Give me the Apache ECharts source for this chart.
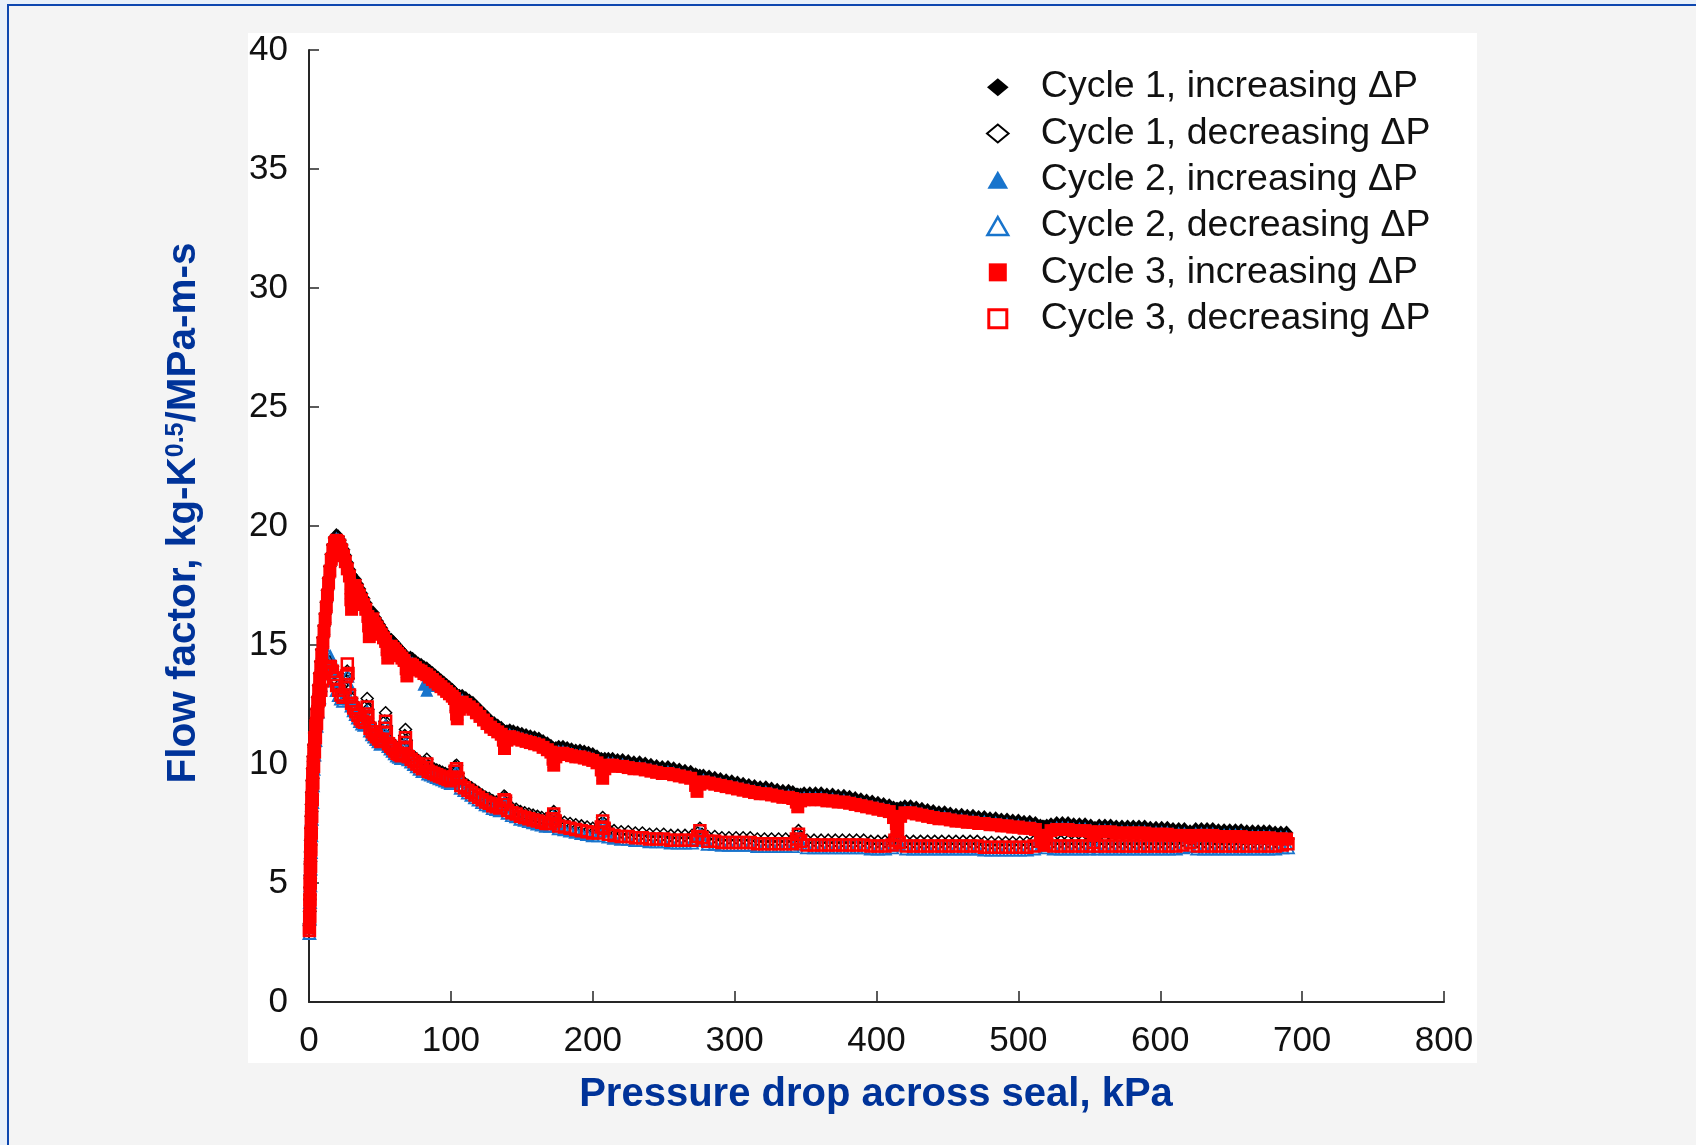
<!DOCTYPE html>
<html>
<head>
<meta charset="utf-8">
<script src="https://cdn.jsdelivr.net/npm/echarts@6/dist/echarts.min.js"></script>
<style>
html,body{margin:0;padding:0;}
body{width:1696px;height:1145px;overflow:hidden;background:#e8f0fa;position:relative;}
#frame{position:absolute;left:7px;top:4px;right:-10px;bottom:-10px;background:#f4f4f4;border-left:2px solid #0d47b0;border-top:2px solid #0d47b0;}
#panel{position:absolute;left:248px;top:33px;width:1229px;height:1030px;background:#ffffff;}
#c{position:absolute;left:0;top:0;width:1696px;height:1145px;}
</style>
</head>
<body>
<div id="frame"></div>
<div id="panel"></div>
<div id="c"></div>
<script>
// ---------- data ----------
const seriesNames = [
  'Cycle 1, increasing \u0394P',
  'Cycle 1, decreasing \u0394P',
  'Cycle 2, increasing \u0394P',
  'Cycle 2, decreasing \u0394P',
  'Cycle 3, increasing \u0394P',
  'Cycle 3, decreasing \u0394P'
];
const xTicks = [0,100,200,300,400,500,600,700,800];
const yTicks = [0,5,10,15,20,25,30,35,40];

// pressure drop (kPa) for increasing-ΔP records
const incX = [
0.3,0.5,0.6,0.7,0.8,0.9,1.0,1.1,1.3,1.5,
1.7,1.9,2.2,2.5,2.9,3.4,4.0,4.7,5.4,6.1,
6.8,7.5,8.3,9.0,9.8,10.6,11.4,12.2,13.0,13.8,
14.7,15.7,16.8,18.0,19.3,20.5,21.7,23.0,24.3,25.6,
27.0,28.5,29.5,29.5,30.0,31.0,32.5,34.0,35.5,37.0,
38.5,40.0,41.5,42.0,42.5,43.5,45.0,46.5,48.0,49.5,
51.0,52.5,54.0,55.0,55.5,56.5,58.0,59.5,61.0,62.5,
64.0,65.5,67.0,68.5,69.0,70.0,71.5,73.0,75.0,77.0,
79,81,83,85,87,89,91,93,95,97,
99,101,102.5,103.5,104,104.5,106,108,110.5,113,
115.5,118,120.5,123,125.5,128,130.5,133,135.5,137,
137.8,139.5,141.5,144,147,150,153,156,159,162,
165,168,170.5,172,172.5,174,176,179,182,185,
188,191,194,197,200,203,206,207,208.5,211,
214,217.5,221,225,229,233,237,241,245,249,
253,257,261,265,269,272.5,273.5,275.5,278,282,
286,290,294,298,302,306,310,314,318,322,
326,330,334,338,341,343.5,344.5,346.5,349,353,
357,361,365,369,373,377,381,385,389,393,
397,401,405,409,412,414,415,417,420,424,
428,432,436,440,444,448,452,456,460,464,
468,472,476,480,484,488,492,496,500,504,
508,512,515.5,517,518,520,523,527,531,535,
539,543,547,551,554,557,561,565,569,573,
577,581,585,589,593,597,601,605,609,613,
617,621,625,629,633,637,641,645,649,653,
657,661,665,669,673,677,681,685,689
];
// flow factor, Cycle 1 increasing
const c1IncY = [
3.3,3.8,4.3,4.8,5.3,5.8,6.3,6.8,7.3,7.8,
8.3,8.8,9.3,9.8,10.3,10.8,11.3,11.8,12.3,12.8,
13.3,13.8,14.3,14.8,15.3,15.8,16.3,16.8,17.3,17.8,
18.3,18.8,19.2,19.5,19.6,19.55,19.4,19.2,19.0,18.75,
18.45,18.15,17.95,17.8,17.7,17.75,17.75,17.55,17.35,17.15,
16.95,16.75,16.5,16.35,16.3,16.3,16.35,16.15,16.0,15.85,
15.7,15.55,15.4,15.25,15.2,15.2,15.2,15.1,15.0,14.9,
14.8,14.7,14.6,14.45,14.4,14.4,14.45,14.4,14.3,14.2,
14.15,14.05,14.0,13.9,13.8,13.7,13.6,13.5,13.4,13.3,
13.2,13.1,13.0,12.9,12.85,12.85,12.85,12.85,12.75,12.65,
12.55,12.4,12.25,12.1,11.95,11.8,11.7,11.6,11.5,11.4,
11.35,11.35,11.4,11.35,11.3,11.25,11.2,11.15,11.1,11.05,
10.95,10.85,10.75,10.65,10.6,10.65,10.7,10.7,10.65,10.6,
10.55,10.55,10.5,10.45,10.4,10.3,10.2,10.15,10.2,10.2,
10.2,10.15,10.15,10.1,10.05,10.05,10.0,9.95,9.9,9.85,
9.85,9.8,9.75,9.7,9.65,9.55,9.5,9.5,9.5,9.45,
9.4,9.35,9.3,9.25,9.2,9.15,9.1,9.05,9.0,9.0,
8.95,8.9,8.85,8.85,8.8,8.7,8.7,8.7,8.75,8.75,
8.75,8.75,8.7,8.7,8.65,8.65,8.6,8.55,8.5,8.45,
8.4,8.35,8.3,8.25,8.15,8.1,8.1,8.15,8.2,8.2,
8.15,8.1,8.05,8.0,7.95,7.95,7.9,7.85,7.85,7.8,
7.8,7.75,7.75,7.7,7.7,7.65,7.65,7.6,7.6,7.55,
7.55,7.5,7.4,7.35,7.35,7.4,7.45,7.5,7.5,7.5,
7.45,7.45,7.45,7.4,7.3,7.4,7.4,7.4,7.35,7.35,
7.35,7.35,7.35,7.35,7.3,7.3,7.3,7.3,7.25,7.25,
7.25,7.15,7.25,7.25,7.25,7.25,7.2,7.2,7.2,7.2,
7.2,7.15,7.15,7.15,7.15,7.15,7.1,7.1,7.1
];
// flow factor, Cycle 2 increasing
const c2IncY = [
4.2,4.3,4.6,5.0,5.4,5.8,6.3,6.8,7.2,7.7,
8.2,8.7,9.2,9.7,10.2,10.7,11.2,11.7,12.2,12.7,
13.2,13.7,14.2,14.7,15.2,15.7,16.2,16.7,17.2,17.7,
18.2,18.7,19.1,19.4,19.5,19.45,19.3,19.1,18.85,18.6,
18.3,18.0,17.6,17.2,16.9,17.3,17.6,17.4,17.2,17.0,
16.8,16.6,16.3,15.9,15.6,16.0,16.2,16.0,15.85,15.7,
15.55,15.4,15.25,14.95,14.7,14.9,15.05,14.95,14.85,14.75,
14.65,14.55,14.45,14.1,13.9,14.1,14.3,14.25,14.15,14.05,
14.0,13.35,13.1,13.3,13.65,13.55,13.45,13.35,13.25,13.15,
13.05,12.95,12.85,12.5,12.3,12.1,12.4,12.7,12.6,12.5,
12.4,12.25,12.1,11.95,11.8,11.65,11.55,11.45,11.35,11.1,
10.8,11.1,11.25,11.2,11.15,11.1,11.05,11.0,10.95,10.9,
10.8,10.7,10.6,10.3,10.1,10.4,10.55,10.55,10.5,10.45,
10.4,10.4,10.35,10.3,10.25,10.15,9.85,9.55,9.9,10.05,
10.05,10.0,10.0,9.95,9.9,9.9,9.85,9.8,9.75,9.7,
9.7,9.65,9.6,9.55,9.5,9.2,9.0,9.25,9.35,9.3,
9.25,9.2,9.15,9.1,9.05,9.0,8.95,8.9,8.85,8.85,
8.8,8.75,8.7,8.7,8.65,8.5,8.3,8.55,8.6,8.6,
8.6,8.6,8.55,8.55,8.5,8.5,8.45,8.4,8.35,8.3,
8.25,8.2,8.15,8.1,7.85,7.6,7.45,7.9,8.05,8.05,
8.0,7.95,7.9,7.85,7.8,7.8,7.75,7.7,7.7,7.65,
7.65,7.6,7.6,7.55,7.55,7.5,7.5,7.45,7.45,7.4,
7.4,7.35,7.1,6.9,6.75,7.1,7.3,7.35,7.35,7.35,
7.3,7.3,7.3,7.25,7.1,7.25,7.25,7.25,7.2,7.2,
7.2,7.2,7.2,7.2,7.15,7.15,7.15,7.15,7.1,7.1,
7.1,7.0,7.1,7.1,7.1,7.1,7.05,7.05,7.05,7.05,
7.05,7.0,7.0,7.0,7.0,7.0,6.95,6.95,6.95
];
// flow factor, Cycle 3 increasing
const c3IncY = [
3.1,3.6,4.1,4.6,5.1,5.6,6.1,6.6,7.1,7.6,
8.1,8.6,9.1,9.6,10.1,10.6,11.1,11.6,12.1,12.6,
13.1,13.6,14.1,14.6,15.1,15.6,16.1,16.6,17.1,17.6,
18.1,18.6,19.0,19.3,19.4,19.35,19.2,19.0,18.75,18.5,
18.2,17.9,17.4,16.9,16.5,17.2,17.5,17.3,17.1,16.9,
16.7,16.5,16.2,15.8,15.35,15.9,16.1,15.9,15.75,15.6,
15.45,15.3,15.15,14.8,14.45,14.8,14.95,14.85,14.75,14.65,
14.55,14.45,14.35,14.0,13.7,14.0,14.2,14.15,14.05,13.95,
13.9,13.8,13.75,13.65,13.55,13.45,13.35,13.25,13.15,13.05,
12.95,12.85,12.75,12.4,12.1,11.9,12.3,12.6,12.5,12.4,
12.3,12.15,12.0,11.85,11.7,11.55,11.45,11.35,11.25,11.0,
10.65,11.0,11.15,11.1,11.05,11.0,10.95,10.9,10.85,10.8,
10.7,10.6,10.5,10.2,9.95,10.3,10.45,10.45,10.4,10.35,
10.3,10.3,10.25,10.2,10.15,10.05,9.75,9.4,9.8,9.95,
9.95,9.9,9.9,9.85,9.8,9.8,9.75,9.7,9.65,9.6,
9.6,9.55,9.5,9.45,9.4,9.1,8.85,9.15,9.25,9.2,
9.15,9.1,9.05,9.0,8.95,8.9,8.85,8.8,8.75,8.75,
8.7,8.65,8.6,8.6,8.55,8.4,8.2,8.45,8.5,8.5,
8.5,8.5,8.45,8.45,8.4,8.4,8.35,8.3,8.25,8.2,
8.15,8.1,8.05,8.0,7.75,7.5,7.3,7.8,7.95,7.95,
7.9,7.85,7.8,7.75,7.7,7.7,7.65,7.6,7.6,7.55,
7.55,7.5,7.5,7.45,7.45,7.4,7.4,7.35,7.35,7.3,
7.3,7.25,7.0,6.8,6.6,7.0,7.2,7.25,7.25,7.25,
7.2,7.2,7.2,7.15,7.0,7.15,7.15,7.15,7.1,7.1,
7.1,7.1,7.1,7.1,7.05,7.05,7.05,7.05,7.0,7.0,
7.0,6.9,7.0,7.0,7.0,7.0,6.95,6.95,6.95,6.95,
6.95,6.9,6.9,6.9,6.9,6.9,6.85,6.85,6.85
];

// pressure drop (kPa) for decreasing-ΔP records
const decX = [
0.3,0.5,0.7,0.9,1.1,1.3,1.6,1.9,2.3,2.7,
3.2,3.8,4.5,5.3,6.2,7.2,8.3,9.5,10.8,12.2,
13.6,15.0,16.5,18.0,19.5,21.0,22.5,24.0,25.5,26.5,
27.0,27.5,28.5,30.0,31.5,33.0,34.5,36.0,37.5,39.0,
40.5,41.0,41.5,43.0,44.5,46.0,47.5,49.0,50.5,52.0,
53.5,54.0,54.5,56.0,57.5,59.0,60.5,62.0,63.5,65.0,
66.5,67.5,68.0,68.5,70.0,72.0,74.0,76.0,78.0,80.0,
82,83,84,86,88,90,92,94,96,98,
100,102,103,104,105,107,109.5,112,114.5,117,
119.5,122,124.5,127,129.5,132,134.5,136.5,137.5,138.5,
140,143,146,149,152,155,158,161,164,167,
170,171.5,172.5,173.5,176,180,184,188,192,196,
200,204,206,207,208,211,215,220,225,230,
235,240,245,250,255,260,265,270,274,275.5,
277,281,286,291,296,301,306,311,316,321,
326,331,336,341,343.5,345,346.5,351,356,361,
366,371,376,381,386,391,396,401,406,411,
413,414.5,416,421,426,431,436,441,446,451,
456,461,466,471,476,481,486,491,496,501,
506,511,516,518,520,525,530,535,540,545,
550,553,556,561,566,571,576,581,586,591,
596,601,606,611,616,621,626,631,636,641,
646,651,656,661,666,671,676,681,686,690
];
// flow factor, Cycle 1 decreasing
const c1DecY = [
3.2,3.8,4.5,5.2,5.9,6.6,7.3,8.0,8.7,9.4,
10.1,10.7,11.3,11.9,12.4,12.9,13.3,13.7,14.0,14.2,
14.3,14.3,14.1,13.8,13.5,13.3,13.1,13.0,13.2,13.5,
13.9,13.6,13.1,12.75,12.55,12.4,12.25,12.1,12.0,11.95,
12.45,12.75,12.3,11.7,11.55,11.45,11.35,11.25,11.15,11.25,
11.8,12.15,11.6,11.05,10.95,10.85,10.75,10.65,10.6,10.55,
10.65,11.2,11.45,11.0,10.5,10.4,10.3,10.2,10.1,10.0,
10.05,10.2,9.9,9.85,9.8,9.75,9.7,9.65,9.6,9.55,
9.5,9.65,9.9,9.95,9.6,9.3,9.2,9.1,9.0,8.9,
8.8,8.7,8.6,8.55,8.45,8.4,8.35,8.5,8.65,8.6,
8.25,8.15,8.1,8.0,7.95,7.9,7.85,7.8,7.75,7.7,
7.7,7.85,8.0,7.8,7.6,7.55,7.5,7.45,7.4,7.35,
7.3,7.3,7.5,7.75,7.5,7.25,7.2,7.15,7.15,7.1,
7.1,7.05,7.05,7.05,7.0,7.0,7.0,7.0,7.1,7.3,
7.05,6.95,6.95,6.9,6.9,6.9,6.9,6.9,6.85,6.85,
6.85,6.85,6.85,6.85,7.0,7.2,6.95,6.8,6.8,6.8,
6.8,6.8,6.8,6.8,6.8,6.8,6.75,6.75,6.75,6.8,
6.95,7.05,6.9,6.75,6.75,6.75,6.75,6.75,6.75,6.75,
6.75,6.75,6.75,6.75,6.7,6.7,6.7,6.7,6.7,6.7,
6.7,6.75,6.9,6.95,6.8,6.75,6.75,6.75,6.75,6.75,
6.75,6.85,6.75,6.75,6.75,6.75,6.75,6.75,6.75,6.75,
6.75,6.75,6.75,6.75,6.8,6.85,6.75,6.75,6.75,6.75,
6.75,6.75,6.75,6.75,6.75,6.75,6.75,6.75,6.8,6.85
];
// flow factor, Cycle 2 decreasing
const c2DecY = [
2.9,3.5,4.2,4.9,5.6,6.3,7.0,7.7,8.4,9.1,
9.8,10.4,11.0,11.6,12.2,12.8,13.3,13.8,14.2,14.45,
14.55,14.5,14.0,13.5,13.1,12.9,12.75,12.65,12.9,13.3,
13.7,13.4,12.75,12.45,12.25,12.1,11.95,11.8,11.7,11.65,
11.9,12.2,11.85,11.4,11.25,11.15,11.05,10.95,10.85,10.9,
11.3,11.6,11.15,10.75,10.65,10.55,10.45,10.35,10.3,10.25,
10.3,10.7,10.9,10.55,10.2,10.1,10.0,9.9,9.8,9.7,
9.75,9.85,9.6,9.55,9.5,9.45,9.4,9.35,9.3,9.25,
9.2,9.35,9.55,9.65,9.3,9.0,8.9,8.8,8.7,8.6,
8.5,8.4,8.3,8.25,8.15,8.1,8.05,8.2,8.35,8.3,
7.95,7.85,7.8,7.7,7.65,7.6,7.55,7.5,7.45,7.4,
7.4,7.55,7.75,7.5,7.3,7.25,7.2,7.15,7.1,7.05,
7.0,7.0,7.2,7.45,7.2,6.95,6.9,6.85,6.85,6.8,
6.8,6.75,6.75,6.75,6.7,6.7,6.7,6.7,6.85,7.05,
6.8,6.65,6.65,6.6,6.6,6.6,6.6,6.6,6.55,6.55,
6.55,6.55,6.55,6.55,6.75,6.9,6.65,6.5,6.5,6.5,
6.5,6.5,6.5,6.5,6.5,6.5,6.45,6.45,6.45,6.5,
6.65,6.85,6.6,6.45,6.45,6.45,6.45,6.45,6.45,6.45,
6.45,6.45,6.45,6.45,6.4,6.4,6.4,6.4,6.4,6.4,
6.4,6.45,6.6,6.7,6.5,6.45,6.45,6.45,6.45,6.45,
6.45,6.55,6.45,6.45,6.45,6.45,6.45,6.45,6.45,6.45,
6.45,6.45,6.45,6.45,6.5,6.55,6.45,6.45,6.45,6.45,
6.45,6.45,6.45,6.45,6.45,6.45,6.45,6.45,6.5,6.5
];
// flow factor, Cycle 3 decreasing
const c3DecY = [
3.0,3.6,4.3,5.0,5.7,6.4,7.1,7.8,8.5,9.2,
9.9,10.5,11.1,11.7,12.2,12.7,13.1,13.5,13.8,14.0,
14.1,14.1,13.9,13.6,13.3,13.1,12.9,12.8,13.2,13.7,
14.2,13.8,12.9,12.55,12.35,12.2,12.05,11.9,11.8,11.75,
12.1,12.4,12.0,11.5,11.35,11.25,11.15,11.05,10.95,11.0,
11.5,11.8,11.3,10.85,10.75,10.65,10.55,10.45,10.4,10.35,
10.4,10.9,11.1,10.7,10.3,10.2,10.1,10.0,9.9,9.8,
9.85,10.0,9.7,9.65,9.6,9.55,9.5,9.45,9.4,9.35,
9.3,9.45,9.7,9.8,9.4,9.1,9.0,8.9,8.8,8.7,
8.6,8.5,8.4,8.35,8.25,8.2,8.15,8.3,8.5,8.45,
8.05,7.95,7.9,7.8,7.75,7.7,7.65,7.6,7.55,7.5,
7.5,7.7,7.9,7.6,7.4,7.35,7.3,7.25,7.2,7.15,
7.1,7.1,7.35,7.6,7.3,7.05,7.0,6.95,6.95,6.9,
6.9,6.85,6.85,6.85,6.8,6.8,6.8,6.8,6.95,7.2,
6.9,6.75,6.75,6.7,6.7,6.7,6.7,6.7,6.65,6.65,
6.65,6.65,6.65,6.65,6.85,7.05,6.75,6.6,6.6,6.6,
6.6,6.6,6.6,6.6,6.6,6.6,6.55,6.55,6.55,6.6,
6.8,7.0,6.7,6.55,6.55,6.55,6.55,6.55,6.55,6.55,
6.55,6.55,6.55,6.55,6.5,6.5,6.5,6.5,6.5,6.5,
6.5,6.55,6.75,6.85,6.6,6.55,6.55,6.55,6.55,6.55,
6.55,6.7,6.55,6.55,6.55,6.55,6.55,6.55,6.55,6.55,
6.55,6.55,6.55,6.55,6.6,6.7,6.55,6.55,6.55,6.55,
6.55,6.55,6.55,6.55,6.55,6.55,6.55,6.55,6.6,6.65
];

// ---------- chart ----------
function pts(xs, ys, label) {
  if (xs.length !== ys.length) console.error('length mismatch ' + label + ': ' + xs.length + ' vs ' + ys.length);
  const n = Math.min(xs.length, ys.length), out = [];
  for (let i = 0; i < n; i++) out.push([xs[i], ys[i]]);
  return out;
}
const FONT = '"Liberation Sans", Arial, Helvetica, sans-serif';
const BLUE = '#1874cc';
const TITLE = '#003399';

const chart = echarts.init(document.getElementById('c'), null, {renderer: 'canvas', width: 1696, height: 1145});

const axisCommon = {
  type: 'value',
  axisLine: {show: true, onZero: false, lineStyle: {color: '#262626', width: 2}},
  axisTick: {show: true, inside: true, lineStyle: {color: '#262626', width: 1.5}},
  splitLine: {show: false},
  axisLabel: {fontFamily: FONT, fontSize: 35, color: '#111'}
};

const option = {
  animation: false,
  backgroundColor: 'transparent',
  grid: {left: 309, top: 50, width: 1135, height: 952, containLabel: false},
  xAxis: Object.assign({}, axisCommon, {
    min: xTicks[0], max: xTicks[xTicks.length - 1], interval: xTicks[1] - xTicks[0],
    axisTick: Object.assign({}, axisCommon.axisTick, {length: 11}),
    axisLabel: Object.assign({}, axisCommon.axisLabel, {margin: 22, showMaxLabel: true, showMinLabel: true})
  }),
  yAxis: Object.assign({}, axisCommon, {
    min: yTicks[0], max: yTicks[yTicks.length - 1], interval: yTicks[1] - yTicks[0],
    axisTick: Object.assign({}, axisCommon.axisTick, {length: 10}),
    axisLabel: Object.assign({}, axisCommon.axisLabel, {margin: 21, showMaxLabel: true, showMinLabel: true})
  }),
  legend: {
    orient: 'vertical', left: 981, top: 59,
    itemWidth: 76, itemHeight: 18, itemGap: 0,
    symbolKeepAspect: true, selectedMode: false,
    textStyle: {fontFamily: FONT, fontSize: 37.5, color: '#111', lineHeight: 46.3},
    data: [
      {name: seriesNames[0], icon: 'path://M0,-10L12,0L0,10L-12,0Z'},
      {name: seriesNames[1], icon: 'path://M0,-10L12,0L0,10L-12,0Z', itemStyle: {borderWidth: 2}},
      {name: seriesNames[2], icon: 'path://M0,-10L11.5,10L-11.5,10Z'},
      {name: seriesNames[3], icon: 'path://M0,-10L11.5,10L-11.5,10Z', itemStyle: {borderWidth: 2.5}},
      {name: seriesNames[4], icon: 'path://M-10,-10L10,-10L10,10L-10,10Z'},
      {name: seriesNames[5], icon: 'path://M-10,-10L10,-10L10,10L-10,10Z', itemStyle: {borderWidth: 3}}
    ]
  },
  graphic: [
    {
      type: 'text', x: 184, y: 513, rotation: Math.PI / 2, z: 10,
      style: {
        text: '{a|Flow factor, kg-K}{b|0.5}{a|/MPa-m-s}',
        align: 'center', verticalAlign: 'middle', fill: TITLE,
        rich: {
          a: {fontFamily: FONT, fontSize: 40.5, fontWeight: 'bold', fill: TITLE},
          b: {fontFamily: FONT, fontSize: 25, fontWeight: 'bold', fill: TITLE, verticalAlign: 'top'}
        }
      }
    },
    {
      type: 'text', x: 876, y: 1095, z: 10,
      style: {
        text: 'Pressure drop across seal, kPa',
        align: 'center', verticalAlign: 'middle', fill: TITLE,
        font: 'bold 40px ' + FONT
      }
    }
  ],
  series: [
    {name: seriesNames[0], type: 'scatter', data: pts(incX, c1IncY, 'c1inc'),
     symbol: 'diamond', symbolSize: [14, 15], itemStyle: {color: '#000000', opacity: 1}, emphasis: {disabled: true}},
    {name: seriesNames[1], type: 'scatter', data: pts(decX, c1DecY, 'c1dec'),
     symbol: 'diamond', symbolSize: 12, itemStyle: {color: 'transparent', borderColor: '#000000', borderWidth: 1.5, opacity: 1}, emphasis: {disabled: true}},
    {name: seriesNames[2], type: 'scatter', data: pts(incX, c2IncY, 'c2inc'),
     symbol: 'triangle', symbolSize: 13, itemStyle: {color: BLUE, opacity: 1}, emphasis: {disabled: true}},
    {name: seriesNames[3], type: 'scatter', data: pts(decX, c2DecY, 'c2dec'),
     symbol: 'triangle', symbolSize: 12, itemStyle: {color: 'transparent', borderColor: BLUE, borderWidth: 1.8, opacity: 1}, emphasis: {disabled: true}},
    {name: seriesNames[4], type: 'scatter', data: pts(incX, c3IncY, 'c3inc'),
     symbol: 'rect', symbolSize: 13, itemStyle: {color: '#ff0000', opacity: 1}, emphasis: {disabled: true}},
    {name: seriesNames[5], type: 'scatter', data: pts(decX, c3DecY, 'c3dec'),
     symbol: 'rect', symbolSize: 11, itemStyle: {color: 'transparent', borderColor: '#ff0000', borderWidth: 2.5, opacity: 1}, emphasis: {disabled: true}}
  ]
};
chart.setOption(option);
</script>
</body>
</html>
